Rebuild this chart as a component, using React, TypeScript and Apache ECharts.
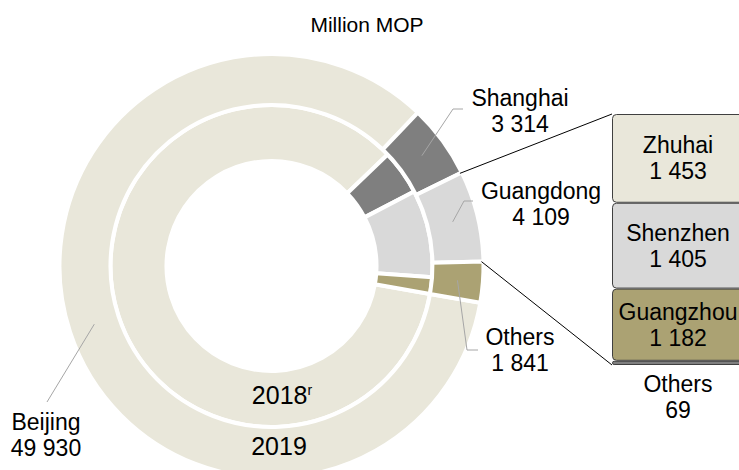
import React, { useEffect, useRef } from 'react';
import * as echarts from 'echarts';

// ---- data ----
const regions = ['Beijing', 'Shanghai', 'Guangdong', 'Others'];
const values2019 = [49930, 3314, 4109, 1841];
const values2018 = [44300, 2350, 4570, 870];
const guangdongCities = ['Others', 'Guangzhou', 'Shenzhen', 'Zhuhai'];
const guangdongValues = [69, 1182, 1405, 1453];
const yearLabels = ['2018', '2019'];
const yearMark = 'r';
const unitLabel = 'Million MOP';

// ---- styles / layout ----
const regionColors = ['#e9e7da', '#7f7f7f', '#d9d9d9', '#aba273'];
const cityColors = ['#7f7f7f', '#aba273', '#d9d9d9', '#e9e7da'];
const FONT = '"Liberation Sans", Arial, sans-serif';
const CX = 271.5;
const CY = 266;
const START = -10;
const BORDER = 4;
const OUTER_R = [163, 210];
const INNER_R = [107, 159];
const labelCenters = [[46, 435], [520, 111], [541, 204], [520, 350]];
const labelElbows = [
  [[47, 402], [47, 402]],
  [[453, 109], [463, 109]],
  [[464, 201], [473, 201]],
  [[467, 350], [478, 350]],
];
const GRID = { left: 612, top: 114, width: 136, height: 251 };
const BAR_TEXT_CENTER = 678;

const fmt = (v: number) => String(v).replace(/\B(?=(\d{3})+(?!\d))/g, ' ');

function sliceAngles(vals: number[]) {
  const total = vals.reduce((a, b) => a + b, 0);
  let a = START;
  return vals.map((v) => {
    const a0 = a;
    const a1 = a - (v / total) * 360;
    a = a1;
    return [a0, a1];
  });
}

function polar(r: number, deg: number): [number, number] {
  const t = (deg * Math.PI) / 180;
  return [CX + r * Math.cos(t), CY - r * Math.sin(t)];
}

export default function App() {
  const ref = useRef<HTMLDivElement>(null);
  useEffect(() => {
    if (!ref.current) return;
    const chart = echarts.init(ref.current, undefined, { renderer: 'svg' });
    const outerAngles = sliceAngles(values2019);
    const midR = (OUTER_R[0] + OUTER_R[1]) / 2;
    const gd = regions.indexOf('Guangdong');
    const cornerTop = polar(OUTER_R[1], outerAngles[gd][0]);
    const cornerBottom = polar(OUTER_R[1], outerAngles[gd][1]);
    const barTop: [number, number] = [GRID.left, GRID.top];
    const barBottom: [number, number] = [GRID.left, GRID.top + GRID.height];
    const labelShift = BAR_TEXT_CENTER - (GRID.left + GRID.width / 2);

    const textStyle = { fontFamily: FONT, fontSize: 23, lineHeight: 26, color: '#000' };

    const leaderLines = regions.map((_, i) => {
      const [a0, a1] = outerAngles[i];
      const start = polar(midR, (a0 + a1) / 2);
      return {
        type: 'polyline',
        z: 10,
        shape: { points: [start, labelElbows[i][0], labelElbows[i][1]] },
        style: { stroke: '#a6a6a6', lineWidth: 1, fill: null },
      };
    });

    chart.setOption({
      animation: false,
      graphic: [
        {
          type: 'text',
          x: 367,
          y: 24,
          style: {
            text: unitLabel,
            fontFamily: FONT,
            fontSize: 21,
            fill: '#000',
            textAlign: 'center',
            textVerticalAlign: 'middle',
          },
        },
        {
          type: 'text',
          x: 282,
          y: 395,
          z: 10,
          style: {
            text: `{y|${yearLabels[0]}}{s|${yearMark}}`,
            textAlign: 'center',
            textVerticalAlign: 'middle',
            rich: {
              y: { fontFamily: FONT, fontSize: 25, fill: '#000', color: '#000' },
              s: { fontFamily: FONT, fontSize: 14, fill: '#000', color: '#000', verticalAlign: 'top' },
            },
          },
        },
        {
          type: 'text',
          x: 279,
          y: 446,
          z: 10,
          style: {
            text: yearLabels[1],
            fontFamily: FONT,
            fontSize: 25,
            fill: '#000',
            textAlign: 'center',
            textVerticalAlign: 'middle',
          },
        },
        ...leaderLines,
        {
          type: 'line',
          z: 10,
          shape: { x1: cornerTop[0], y1: cornerTop[1], x2: barTop[0], y2: barTop[1] },
          style: { stroke: '#000', lineWidth: 1 },
        },
        {
          type: 'line',
          z: 10,
          shape: { x1: cornerBottom[0], y1: cornerBottom[1], x2: barBottom[0], y2: barBottom[1] },
          style: { stroke: '#000', lineWidth: 1 },
        },
      ],
      grid: {
        left: GRID.left,
        top: GRID.top,
        width: GRID.width,
        height: GRID.height,
        outerBoundsMode: 'none',
        containLabel: false,
      },
      xAxis: { type: 'category', data: ['Guangdong'], show: false },
      yAxis: { type: 'value', min: 0, max: guangdongValues.reduce((a, b) => a + b, 0), show: false },
      series: [
        {
          type: 'pie',
          name: '2018',
          center: [CX, CY],
          radius: [INNER_R[0] - BORDER / 2, INNER_R[1] + BORDER / 2],
          startAngle: START,
          clockwise: true,
          silent: true,
          label: { show: false },
          labelLine: { show: false },
          itemStyle: { borderColor: '#fff', borderWidth: BORDER },
          data: regions.map((n, i) => ({ name: n, value: values2018[i], itemStyle: { color: regionColors[i] } })),
        },
        {
          type: 'pie',
          name: '2019',
          center: [CX, CY],
          radius: [OUTER_R[0] - BORDER / 2, OUTER_R[1] + BORDER / 2],
          startAngle: START,
          clockwise: true,
          silent: true,
          avoidLabelOverlap: false,
          itemStyle: { borderColor: '#fff', borderWidth: BORDER },
          label: {
            show: true,
            position: 'outside',
            ...textStyle,
            align: 'center',
            formatter: (p: any) => `${p.name}\n${fmt(p.value)}`,
          },
          labelLine: { show: false },
          labelLayout: (p: any) => {
            const i = p.dataIndex;
            return {
              x: labelCenters[i][0],
              y: labelCenters[i][1],
              align: 'center',
              verticalAlign: 'middle',
            };
          },
          data: regions.map((n, i) => ({ name: n, value: values2019[i], itemStyle: { color: regionColors[i] } })),
        },
        ...guangdongCities.map((c, i) => ({
          type: 'bar',
          name: c,
          stack: 'gd',
          barWidth: '100%',
          silent: true,
          itemStyle: { color: cityColors[i], borderColor: '#404040', borderWidth: 1, borderRadius: 4 },
          label: {
            show: true,
            position: i === 0 ? 'bottom' : 'inside',
            distance: 6,
            offset: [labelShift, 0],
            ...textStyle,
            formatter: (p: any) => `${p.seriesName}\n${fmt(p.value)}`,
          },
          data: [guangdongValues[i]],
        })),
      ],
    });
    return () => chart.dispose();
  }, []);
  return (
    <div
      ref={ref}
      style={{ position: 'fixed', left: 0, top: 0, width: 739, height: 470, background: '#fff' }}
    />
  );
}
